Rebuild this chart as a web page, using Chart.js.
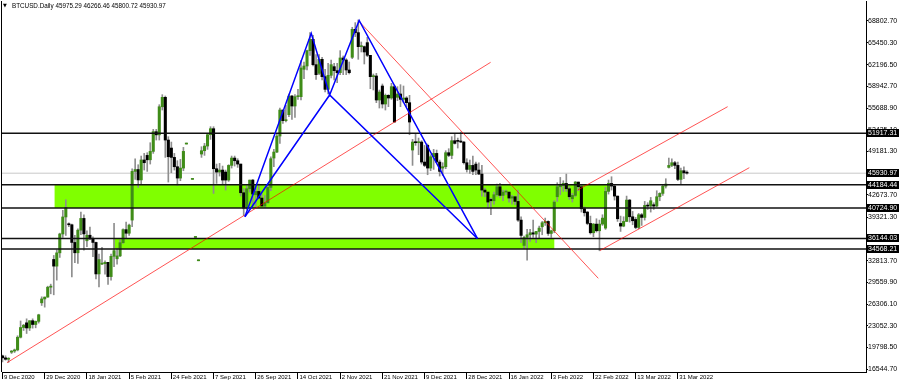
<!DOCTYPE html>
<html><head><meta charset="utf-8">
<script src="https://cdn.jsdelivr.net/npm/chart.js@4.4.1/dist/chart.umd.min.js"></script>
<style>html,body{margin:0;padding:0;background:#fff;}#c{display:block;}</style>
</head><body>
<canvas id="c" width="900" height="386"></canvas>
<script>
// ---- data (daily candles, one per bar index) ----
const open = [
18550,18250,18040,19100,19270,19440,21340,22800,23500,22730,
23820,23250,23720,26500,27080,27360,28840,33000,32000,33990,
36820,39370,38300,38200,35550,34000,37390,39150,35800,36630,
36070,35550,30830,32300,32370,32570,30430,33470,33100,33530,
35510,37470,36930,38900,46200,46480,44920,47910,48600,47940,
49200,52150,51680,55890,57300,50900,49700,48300,46900,45200,
46700,50300,null,45000,36300,32800,48800,49300,50000,51700,
52600,46600,46100,46400,46100,44900,47100,48200,47800,47300,
43000,40700,43600,44900,42700,43200,42200,41000,41500,43800,
48200,49100,51500,55400,53800,54700,57500,56000,57400,57400,
61500,62000,64300,66000,62200,60900,63000,60400,58500,60600,
61900,61300,61000,63200,62900,61400,63300,67500,67000,64900,
64900,65500,63600,60400,60500,56900,59000,56300,57600,57200,
58900,57300,57800,57000,57200,56500,49400,50600,50500,50600,
47600,50100,46700,48400,48900,47600,46700,46900,49000,48600,
50800,50800,50700,50600,47500,46500,47100,47300,46400,45800,
43400,43100,42000,41800,42700,43900,42600,43100,43100,42200,
42400,41700,38900,35100,36300,36700,37000,36800,37200,37900,
38500,38700,36900,37300,42400,43900,44100,44400,43600,42100,
42600,44600,43900,40600,40100,38400,37000,38300,37300,38300,
37700,43200,44400,44000,42500,38400,38000,38700,41900,39400,
39000,37800,39700,39300,41100,41000,41200,41000,42400,42900,
44000,46800,47100,47500,47100,45000,46300,45975.29];
const high = [
18650,18560,18280,19350,19570,21560,23780,23280,24100,23820,
24100,23780,24790,27400,27370,28990,29300,33600,34440,36940,
40360,41950,38500,38300,36600,37600,40100,39700,37300,37850,
36400,35600,33800,34800,32800,32570,33800,38400,34700,35900,
37600,38600,38300,46600,48100,47200,48500,48900,49000,50500,
52500,52500,56200,57700,57500,51400,50600,48900,47800,48000,
49800,50300,null,45000,36300,32800,49900,50400,51900,52900,
52900,47300,47400,47000,46400,47200,48500,48500,48100,47300,
43600,44000,44900,45000,43900,44300,42800,42600,44100,48400,
49500,51900,55700,55400,56100,57800,57600,57700,58500,62800,
62600,64400,67000,66600,63700,63700,63300,61500,62400,62900,
62400,62400,64300,63500,63100,62600,67800,68500,68900,65600,
65000,66300,63600,60800,60900,58400,59300,57800,57700,59400,
59100,58900,59200,59000,57400,57600,51000,51900,51200,50800,
50100,50300,48700,49500,49400,47900,47500,49300,49600,51400,
51800,51200,52100,50700,48100,47900,48500,47600,47500,47100,
43700,43100,42200,43100,44300,44400,43400,43400,43100,42600,
42500,43400,39400,36500,37500,37500,38900,37200,38000,38700,
39200,38800,37400,41800,44500,45300,44800,45800,43900,42900,
44700,44600,44200,40900,40200,39500,38400,39100,38900,39700,
43800,44900,45400,44100,42500,39500,39400,42500,42000,40200,
39300,39900,39900,41700,41500,42300,41500,43300,43000,44200,
45100,48200,48100,47700,47600,46700,46900,46266.46];
const low = [
17650,17900,17580,18900,19050,19300,21230,22350,21900,22350,
22700,22750,23460,26100,25850,27320,27850,27700,29900,33300,
36300,36600,37900,30400,32500,32400,36700,34400,34900,36000,
33400,30100,28900,32200,30800,29250,29900,31900,32300,33400,
35400,36200,36600,37900,45000,43800,44300,46400,46200,47300,
48900,50900,50900,55400,48300,44600,46000,46400,44100,44800,
46300,50300,null,45000,36300,32800,48300,48600,49500,51000,
42900,44400,45500,44200,43400,44700,46700,47000,46800,42500,
39600,40500,43100,40900,40800,42100,41000,40800,41400,43300,
46900,49000,50400,53400,53600,54400,54000,54300,57000,56900,
60100,61400,63600,62000,60000,60700,59900,58100,57800,60200,
59900,59500,60700,60700,60700,60800,63100,66400,63000,64100,
62300,63400,58600,58400,56500,55700,55700,55400,55900,57000,
53600,56800,55900,56500,55900,51700,47100,50100,48700,47300,
46900,45700,46300,46500,47600,45500,45600,46600,48400,48100,
50300,49700,50500,47300,46100,45900,45700,45700,45700,42500,
42400,40700,39700,41300,42500,42300,41800,42700,41600,41300,
41200,38700,35500,34600,32900,35700,36300,35500,36200,36700,
38100,36600,36300,37000,41700,42700,43200,43200,42000,41600,
42400,43300,40100,39500,38200,36800,36400,37100,34300,38100,
37500,42800,43400,41900,38700,37200,37900,38700,38600,38200,
37600,37600,38100,38900,40500,40100,40500,40900,41800,42600,
43700,46700,46900,46600,44800,44200,45100,45800.72];
const close = [
18250,18040,18060,19270,19440,21340,22800,23140,22730,23820,
23250,23720,24700,27080,27360,28840,29000,32000,33990,36820,
39370,40800,38200,35550,34000,37390,39150,36830,36630,36070,
35550,30830,32990,32370,32570,30430,33470,34320,33530,35510,
37470,36930,38150,46200,46480,44920,47910,47500,47940,49200,
52150,51680,55890,57300,50900,48400,48300,46900,45200,46700,
49200,50300,null,45000,36300,32800,49300,50000,51700,52600,
46600,46100,46400,44900,44900,47100,48200,47800,47300,43000,
40700,43600,44900,42800,43200,42200,41000,41500,43800,48100,
49100,51500,55400,53800,53900,57500,56000,57400,57400,61700,
62000,64300,66000,62200,60700,63000,60400,58500,60600,62200,
61300,61000,63200,62900,61400,61000,67500,67000,64900,64900,
64100,63600,60400,60500,56900,58100,56300,57600,57200,58900,
53600,57800,57000,57200,56500,53600,50600,50500,50600,47600,
47100,46700,48400,48900,47600,46200,46900,49000,48600,50800,
50400,50700,50600,47500,46500,47100,46200,46400,45800,43400,
43100,41600,41800,42700,43900,42600,43100,43100,42200,42400,
41700,38900,36600,36300,36700,37000,36800,37200,37700,38500,
38700,36900,37300,41600,43900,44100,44400,43600,42400,42600,
44600,43900,40600,40000,38400,37000,38300,37300,38300,39200,
43200,44400,44000,42500,39100,38000,38700,41900,39400,38800,
37800,39700,39300,41100,41000,41800,41000,42400,42900,44000,
44300,47100,47500,47100,45000,46300,45975.29,45930.97];

// x-axis tick labels (one every 14 bars)
const xTickBars = [0,14,28,42,56,70,84,98,112,126,140,154,168,182,196,210,224];
const xTickLabels = ['9 Dec 2020','29 Dec 2020','18 Jan 2021','5 Feb 2021','24 Feb 2021','7 Sep 2021',
  '26 Sep 2021','14 Oct 2021','2 Nov 2021','21 Nov 2021','9 Dec 2021','28 Dec 2021','16 Jan 2022',
  '3 Feb 2022','22 Feb 2022','13 Mar 2022','31 Mar 2022'];
// y-axis tick values
const yTickValues = [16544.7,19798.5,23052.3,26306.1,29559.9,32813.7,36067.5,39321.3,42673.7,
  45927.5,49181.3,52435.1,55688.9,58942.7,62196.5,65450.3,68802.7];

// horizontal levels and current price
const levels = [51917.31, 44184.44, 40724.90, 36144.03, 34568.21];
const lastPrice = 45930.97;
const header = ['BTCUSD.Daily', '45975.29', '46266.46', '45800.72', '45930.97'];

// zones: [fromBar, toBar, upper, lower]
const zones = [[17.2, 200.6, 44184.44, 40724.90], [36.7, 183.1, 36144.03, 34568.21]];
// red trendlines: [[bar, price],[bar, price]]
const redLines = [
  [[1.49, 17523], [161.9, 62553]],
  [[118.3, 68669], [197.6, 30175]],
  [[190.8, 43411], [240.5, 55898]],
  [[198.2, 34342], [247.7, 46754]]
];
// harmonic pattern points X, A, B, C, D
const patX = [80.4, 39408], patA = [102.4, 66902], patB = [108.5, 57652], patC = [118.3, 68818], patD = [157.5, 36144];

// ---- chart ----
const X_MIN = -0.166, X_MAX = 286.4;
const Y_MIN = 16129, Y_MAX = 71742;
const BULL = '#3f8c18', BEAR = '#000000', WICK = '#8e8e8e', ZONE = '#80ff00';

const wickData = [], bodyData = [], bodyColors = [];
for (let i = 0; i < open.length; i++) {
  if (open[i] == null) continue;
  wickData.push({x: i, y: [low[i], high[i]]});
  bodyData.push({x: i, y: [open[i], close[i]]});
  bodyColors.push(close[i] >= open[i] ? BULL : BEAR);
}
const pt = p => ({x: p[0], y: p[1]});
const lineDs = (pts, color, width, order) => ({
  type: 'line', data: pts.map(pt), borderColor: color, borderWidth: width,
  pointRadius: 0, fill: false, tension: 0, order: order
});

const datasets = [];
zones.forEach(z => datasets.push({
  type: 'line', data: [{x: z[0], y: z[2]}, {x: z[1], y: z[2]}],
  fill: {value: z[3]}, backgroundColor: ZONE, borderWidth: 0, pointRadius: 0, order: 10
}));
datasets.push(lineDs([[X_MIN, lastPrice], [X_MAX, lastPrice]], '#c8c8c8', 1, 9));
datasets.push({type: 'bar', data: wickData, backgroundColor: WICK, barThickness: 1, grouped: false, minBarLength: 1, order: 8});
datasets.push({type: 'bar', data: bodyData, backgroundColor: bodyColors, barThickness: 2.4, grouped: false, minBarLength: 1, order: 7});
levels.forEach(v => datasets.push(lineDs([[X_MIN, v], [X_MAX, v]], '#111', 1.5, 5)));
redLines.forEach(l => datasets.push(lineDs(l, 'rgba(255,0,0,0.85)', 0.8, 2)));
datasets.push(lineDs([patX, patA, patB, patC, patD], '#0000ff', 1.5, 1));
datasets.push(lineDs([patX, patB, patD], '#0000ff', 1.5, 1));

const overlay = {
  id: 'overlay',
  afterDraw(chart) {
    const {ctx, chartArea, scales: {y}} = chart;
    ctx.save();
    // left frame
    ctx.strokeStyle = '#000'; ctx.lineWidth = 1;
    ctx.beginPath(); ctx.moveTo(chartArea.left - 0.5, chartArea.top); ctx.lineTo(chartArea.left - 0.5, chartArea.bottom); ctx.stroke();
    // level price boxes
    ctx.font = '7px "Liberation Sans", Arial, sans-serif';
    ctx.textBaseline = 'middle'; ctx.textAlign = 'left';
    [...levels, lastPrice].forEach(v => {
      const py = y.getPixelForValue(v);
      ctx.fillStyle = '#000';
      ctx.fillRect(chartArea.right + 1, Math.round(py) - 4, 32, 8);
      ctx.fillStyle = '#fff';
      ctx.fillText(v.toFixed(2), chartArea.right + 2, Math.round(py) + 0.5);
    });
    // header
    ctx.fillStyle = '#000';
    ctx.font = '5px "DejaVu Sans", sans-serif';
    ctx.fillText('\u25BC', 3, 6);
    ctx.font = '6.3px "Liberation Sans", Arial, sans-serif';
    ctx.fillText(header.join(' '), 12, 6);
    ctx.restore();
  }
};

Chart.defaults.font.family = '"Liberation Sans", Arial, sans-serif';
new Chart(document.getElementById('c'), {
  type: 'bar',
  data: {datasets},
  options: {
    responsive: false, animation: false, devicePixelRatio: 1,
    layout: {padding: {left: 2, top: 1, right: 0, bottom: 0}},
    plugins: {legend: {display: false}, tooltip: {enabled: false}},
    scales: {
      x: {
        type: 'linear', min: X_MIN, max: X_MAX, offset: false,
        grid: {display: true, drawOnChartArea: false, drawTicks: true, tickLength: 7, color: '#000', offset: false},
        border: {display: true, color: '#000', width: 1},
        ticks: {autoSkip: false, maxRotation: 0, minRotation: 0, align: 'start', labelOffset: 1.5, padding: -5,
          font: {size: 6}, color: '#000', callback: (v, i) => xTickLabels[i] ?? ''},
        afterBuildTicks: s => { s.ticks = xTickBars.map(v => ({value: v})); },
        afterFit: s => { s.height = 14; s.paddingLeft = 0; s.paddingRight = 0; }
      },
      y: {
        position: 'right', min: Y_MIN, max: Y_MAX,
        grid: {drawOnChartArea: false, drawTicks: true, tickLength: 2, color: '#000'},
        border: {display: true, color: '#000', width: 1},
        ticks: {autoSkip: false, padding: 0, font: {size: 7}, color: '#000', callback: v => Number(v).toFixed(2)},
        afterBuildTicks: s => { s.ticks = yTickValues.map(v => ({value: v})); },
        afterFit: s => { s.width = 34; s.paddingTop = 0; s.paddingBottom = 0; }
      }
    }
  },
  plugins: [overlay]
});
</script>
</body></html>
